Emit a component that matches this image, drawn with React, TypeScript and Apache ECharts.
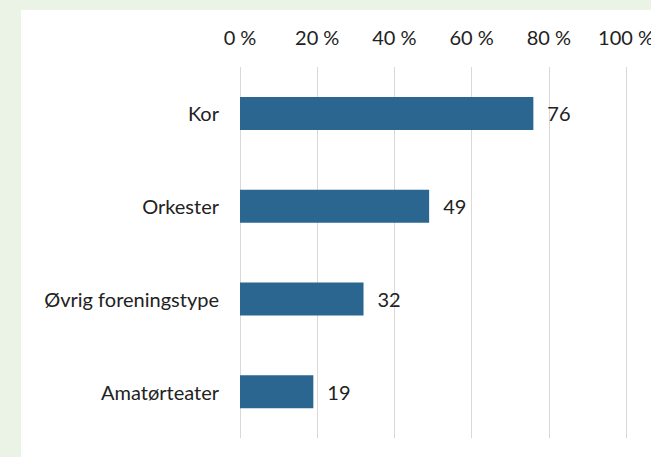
import React, { useEffect, useRef } from "react";
import * as echarts from "echarts";

const categories = ["Kor", "Orkester", "Øvrig foreningstype", "Amatørteater"];
const values = [76, 49, 32, 19];
const tickMin = 0;
const tickMax = 100;
const tickStep = 20;

export default function App() {
  const ref = useRef<HTMLDivElement>(null);
  useEffect(() => {
    document.body.style.margin = "0";
    const chart = echarts.init(ref.current!, null, { renderer: "svg" });
    const font = "Lato, 'Open Sans', sans-serif";
    chart.setOption({
      animation: false,
      backgroundColor: "#EBF3E7",
      graphic: [
        {
          type: "rect",
          z: -10,
          silent: true,
          shape: { x: 21, y: 10, width: 640, height: 460 },
          style: { fill: "#ffffff" },
        },
      ],
      grid: {
        left: 240,
        right: 25,
        top: 67,
        bottom: 19,
        containLabel: false,
        outerBoundsMode: "none",
      },
      xAxis: {
        type: "value",
        position: "top",
        min: tickMin,
        max: tickMax,
        interval: tickStep,
        axisLine: { show: false },
        axisTick: { show: false },
        splitLine: { show: true, lineStyle: { color: "#d9d9d9", width: 1 } },
        axisLabel: {
          formatter: (v: number) => `${v} %`,
          color: "#222222",
          fontFamily: font,
          fontSize: 20,
          margin: 20,
        },
      },
      yAxis: {
        type: "category",
        data: categories,
        inverse: true,
        axisLine: { show: false },
        axisTick: { show: false },
        axisLabel: {
          color: "#222222",
          fontFamily: font,
          fontSize: 20,
          margin: 21,
        },
      },
      series: [
        {
          type: "bar",
          data: values,
          barWidth: 33,
          itemStyle: { color: "#2A6690" },
          label: {
            show: true,
            position: "right",
            distance: 14,
            color: "#222222",
            fontFamily: font,
            fontSize: 20,
          },
        },
      ],
    });
    return () => chart.dispose();
  }, []);
  return <div ref={ref} style={{ width: 651, height: 457 }} />;
}
